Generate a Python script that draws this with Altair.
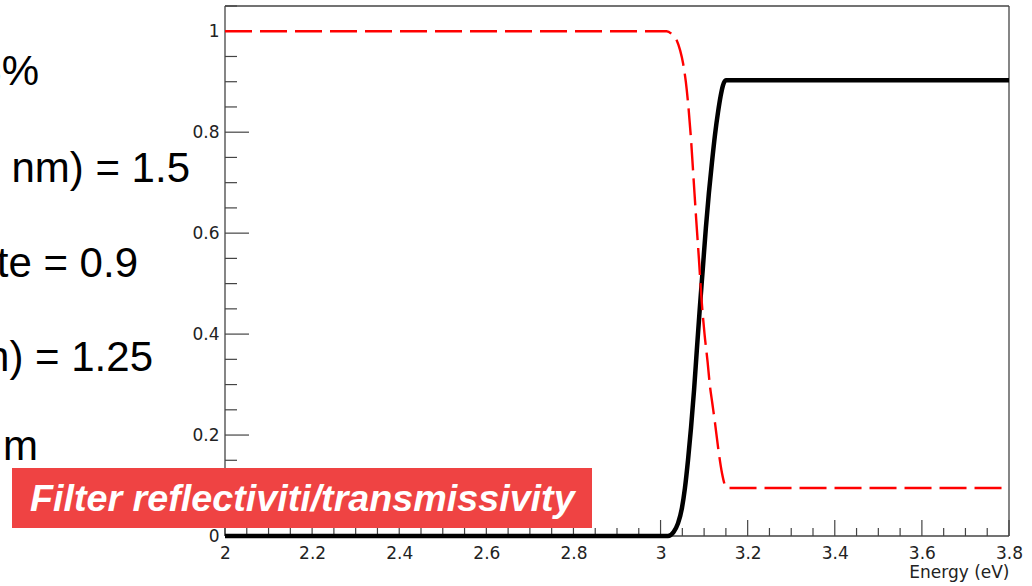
import altair as alt
import pandas as pd

# ---- data ----
refl_energy = [2.0, 3.014, 3.026, 3.037, 3.045, 3.052, 3.058, 3.064, 3.070, 3.076,
               3.082, 3.088, 3.094, 3.101, 3.108, 3.113, 3.119, 3.125, 3.132, 3.141,
               3.152, 3.8]
refl_value = [1.0, 1.0, 0.994, 0.982, 0.962, 0.935, 0.900, 0.850, 0.785, 0.705,
              0.625, 0.550, 0.470, 0.400, 0.345, 0.300, 0.262, 0.224, 0.176, 0.125,
              0.095, 0.095]

trans_energy = [2.0, 3.017, 3.030, 3.040, 3.049, 3.056, 3.063, 3.070, 3.077, 3.083,
                3.090, 3.097, 3.104, 3.111, 3.118, 3.125, 3.132, 3.138, 3.143, 3.150,
                3.8]
trans_value = [0.0, 0.0, 0.008, 0.025, 0.055, 0.095, 0.150, 0.215, 0.290, 0.365,
               0.450, 0.530, 0.610, 0.680, 0.740, 0.795, 0.840, 0.872, 0.892, 0.903,
               0.903]

x_domain = [2.0, 3.8]
y_domain = [0.0, 1.05]
x_major = [2.0, 2.2, 2.4, 2.6, 2.8, 3.0, 3.2, 3.4, 3.6, 3.8]
y_major = [0.0, 0.2, 0.4, 0.6, 0.8, 1.0]
x_minor = [round(2.0 + 0.05 * i, 2) for i in range(37)]
x_minor = [v for v in x_minor if v not in x_major]
y_minor = [round(0.05 * i, 2) for i in range(22)]
y_minor = [v for v in y_minor if v not in y_major]

x_title = "Energy (eV)"
banner_text = "Filter reflectiviti/transmissivity"
side_texts = ["3%", "nm) = 1.5", "te = 0.9", "n) = 1.25", "m"]

# ---- layout ----
W, H = 784, 530
PAD_L, PAD_T = 225, 6
FRAME = "#444444"
LABEL = "#222222"

xs = alt.Scale(domain=x_domain, nice=False, zero=False)
ys = alt.Scale(domain=y_domain, nice=False, zero=False)

xax = alt.Axis(values=x_major, format="~g", ticks=False, domain=False, grid=False,
               labelFont="DejaVu Sans", labelFontSize=17, labelColor=LABEL,
               labelPadding=9, labelFlush=False,
               title=x_title, titleFont="DejaVu Sans", titleFontSize=17,
               titleFontWeight="normal", titleColor=LABEL, titleAnchor="end",
               titleAlign="right", titleBaseline="alphabetic", titleX=W, titleY=41)
yax = alt.Axis(values=y_major, format="~g", ticks=False, domain=False, grid=False,
               labelFont="DejaVu Sans", labelFontSize=17, labelColor=LABEL,
               labelPadding=6, labelFlush=False, title=None)

refl_df = pd.DataFrame({"e": refl_energy, "v": refl_value})
trans_df = pd.DataFrame({"e": trans_energy, "v": trans_value})

one = pd.DataFrame({"a": [0]})

# frame
frame_v = alt.Chart(pd.DataFrame({"e": x_domain})).mark_rule(
    color=FRAME, strokeWidth=1.3).encode(
    x=alt.X("e:Q", scale=xs, axis=xax), y=alt.value(0), y2=alt.value(H))
frame_h = alt.Chart(pd.DataFrame({"v": y_domain})).mark_rule(
    color=FRAME, strokeWidth=1.3).encode(
    y=alt.Y("v:Q", scale=ys, axis=yax), x=alt.value(0), x2=alt.value(W))

# ticks (inward, ROOT style)
xt_major = alt.Chart(pd.DataFrame({"e": x_major})).mark_rule(
    color=FRAME, strokeWidth=1.2).encode(
    x=alt.X("e:Q", scale=xs, axis=xax), y=alt.value(H), y2=alt.value(H - 16))
xt_minor = alt.Chart(pd.DataFrame({"e": x_minor})).mark_rule(
    color=FRAME, strokeWidth=1.2).encode(
    x=alt.X("e:Q", scale=xs, axis=xax), y=alt.value(H), y2=alt.value(H - 8))
yt_major = alt.Chart(pd.DataFrame({"v": y_major})).mark_rule(
    color=FRAME, strokeWidth=1.2).encode(
    y=alt.Y("v:Q", scale=ys, axis=yax), x=alt.value(0), x2=alt.value(24))
yt_minor = alt.Chart(pd.DataFrame({"v": y_minor})).mark_rule(
    color=FRAME, strokeWidth=1.2).encode(
    y=alt.Y("v:Q", scale=ys, axis=yax), x=alt.value(0), x2=alt.value(12))

trans_line = alt.Chart(trans_df).mark_line(
    color="#000000", strokeWidth=4.5, interpolate="monotone").encode(
    x=alt.X("e:Q", scale=xs, axis=xax), y=alt.Y("v:Q", scale=ys, axis=yax))
refl_line = alt.Chart(refl_df).mark_line(
    color="#ff0000", strokeWidth=2.4, strokeDash=[27, 8], interpolate="monotone").encode(
    x=alt.X("e:Q", scale=xs, axis=xax), y=alt.Y("v:Q", scale=ys, axis=yax))

banner_box = alt.Chart(one).mark_rect(color="#ef4343").encode(
    x=alt.value(12 - PAD_L), x2=alt.value(592 - PAD_L),
    y=alt.value(468 - PAD_T), y2=alt.value(528 - PAD_T))
banner = alt.Chart(one).mark_text(
    color="white", font="Liberation Sans", fontSize=37.7, fontWeight="bold",
    fontStyle="italic", align="left", baseline="alphabetic").encode(
    x=alt.value(30 - PAD_L), y=alt.value(511 - PAD_T), text=alt.value(banner_text))

side_right = [39, 190, 138, 153, 38]
side_base = [85, 182, 277, 371, 460]
side_layers = []
for t, xr, yb in zip(side_texts, side_right, side_base):
    side_layers.append(
        alt.Chart(one).mark_text(
            color="#000000", font="Liberation Sans", fontSize=42,
            align="right", baseline="alphabetic").encode(
            x=alt.value(xr - PAD_L), y=alt.value(yb - PAD_T), text=alt.value(t)))

chart = alt.layer(
    frame_v, frame_h, xt_major, xt_minor, yt_major, yt_minor,
    trans_line, refl_line, banner_box, banner, *side_layers
).properties(
    width=W, height=H,
    autosize=alt.AutoSizeParams(type="none"),
    padding={"left": PAD_L, "top": PAD_T, "right": 1032 - PAD_L - W, "bottom": 586 - PAD_T - H},
    background="white",
).configure_view(stroke=None)

chart.save("out.html", embed_options={"renderer": "svg", "actions": False})
